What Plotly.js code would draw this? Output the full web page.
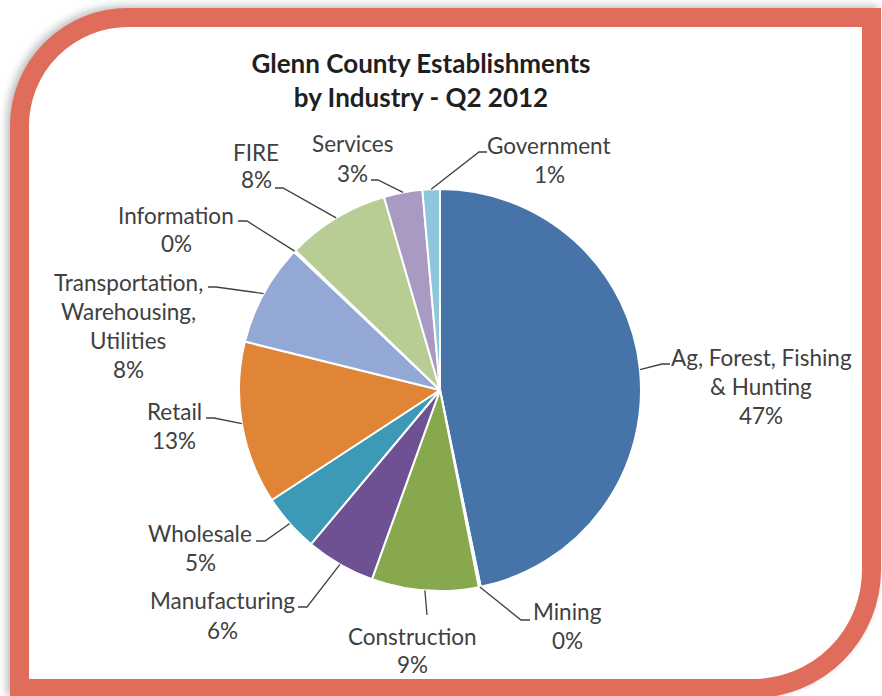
<!DOCTYPE html>
<html>
<head>
<meta charset="utf-8">
<script src="https://cdn.plot.ly/plotly-3.0.1.min.js"></script>
<style>
  html, body { margin: 0; padding: 0; background: #ffffff; overflow: hidden; }
  #frame {
    position: absolute; left: 10px; top: 8px; width: 871px; height: 690px;
    box-sizing: border-box; border: 19px solid #E06C5C; background: #ffffff;
    border-radius: 118px 0 128px 0;
    box-shadow: -3px -2px 9px rgba(0,0,0,0.28);
  }
  #chart { position: absolute; left: 0; top: 0; width: 882px; height: 696px; }
</style>
</head>
<body>
<div id="frame"></div>
<div id="chart"></div>
<script>
// ---- data ----
const categories = ["Ag, Forest, Fishing & Hunting", "Mining", "Construction", "Manufacturing",
  "Wholesale", "Retail", "Transportation, Warehousing, Utilities", "Information",
  "FIRE", "Services", "Government"];
const shareValues = [46.8, 0.15, 8.6, 5.6, 4.7, 13.1, 8.2, 0.15, 8.3, 3.1, 1.4];
const labelLines = [
  ["Ag, Forest, Fishing", "& Hunting"], ["Mining"], ["Construction"], ["Manufacturing"],
  ["Wholesale"], ["Retail"], ["Transportation,", "Warehousing,", "Utilities"], ["Information"],
  ["FIRE"], ["Services"], ["Government"]];
const chartTitle = "Glenn County Establishments<br>by Industry - Q2 2012";

// ---- styles / layout positions (pixels) ----
const sliceColors = ["#4674A8", "#C0504D", "#88A84D", "#6D5192", "#3C9AB6", "#E08436",
  "#93A8D4", "#E6A9A8", "#B7CD93", "#A99AC4", "#8EC6DB"];
const W = 882, H = 696, CX = 440, CY = 390, R = 201;
// label block: centre x, y of first line, line step; leader: attach point at text, elbow point
const labelPos = [
  {cx: 761, y: 357, step: 29, attach: [670, 364], elbow: [662, 364]},
  {cx: 567, y: 611, step: 29, attach: [530, 620], elbow: [521, 620]},
  {cx: 412, y: 636, step: 28, attach: [427, 615], elbow: [427, 615]},
  {cx: 222, y: 600, step: 30, attach: [298, 607], elbow: [307, 607]},
  {cx: 200, y: 533, step: 29, attach: [256, 541], elbow: [265, 541]},
  {cx: 174, y: 411, step: 29, attach: [206, 418], elbow: [214, 418]},
  {cx: 128, y: 282, step: 29, attach: [208, 287], elbow: [216, 287]},
  {cx: 176, y: 215, step: 28, attach: [238, 221], elbow: [247, 221]},
  {cx: 256, y: 152, step: 28, attach: [275, 188], elbow: [283, 188]},
  {cx: 352, y: 143, step: 30, attach: [371, 180], elbow: [378, 180]},
  {cx: 549, y: 145, step: 29, attach: [487, 152], elbow: [479, 152]}
];
const labelFont = {family: "Lato, 'Noto Sans', sans-serif", size: 22.5, color: "#404040"};

const px = x => x / W;
const py = y => 1 - y / H;

const total = shareValues.reduce((a, b) => a + b, 0);
const annotations = [];
const shapes = [];
let cum = 0;
shareValues.forEach((v, i) => {
  const theta = 2 * Math.PI * (cum + v / 2) / total;
  cum += v;
  const sx = CX + R * Math.sin(theta), sy = CY - R * Math.cos(theta);
  const lp = labelPos[i];
  const lines = labelLines[i].concat([Math.round(v / total * 100) + "%"]);
  lines.forEach((t, k) => {
    annotations.push({
      xref: "paper", yref: "paper", x: px(lp.cx), y: py(lp.y + k * lp.step),
      xanchor: "center", yanchor: "middle", showarrow: false, text: t, font: labelFont
    });
  });
  shapes.push({
    type: "path", xref: "paper", yref: "paper",
    path: `M ${px(sx)} ${py(sy)} L ${px(lp.elbow[0])} ${py(lp.elbow[1])} L ${px(lp.attach[0])} ${py(lp.attach[1])}`,
    line: {color: "#404040", width: 1.3}
  });
});

const trace = {
  type: "pie",
  labels: categories,
  values: shareValues,
  sort: false,
  direction: "clockwise",
  rotation: 0,
  textinfo: "none",
  hoverinfo: "label+percent",
  marker: {colors: sliceColors, line: {color: "#ffffff", width: 2}},
  domain: {x: [px(CX - R), px(CX + R)], y: [py(CY + R), py(CY - R)]},
  showlegend: false
};

const layout = {
  width: W, height: H,
  margin: {l: 0, r: 0, t: 0, b: 0},
  paper_bgcolor: "rgba(0,0,0,0)",
  plot_bgcolor: "rgba(0,0,0,0)",
  title: {
    text: "<b>" + chartTitle.replace("<br>", "</b><br><b>") + "</b>",
    x: px(421), xanchor: "center", xref: "paper",
    y: py(73), yanchor: "middle", yref: "paper",
    font: {family: "Lato, 'Noto Sans', sans-serif", size: 26, color: "#1f1f1f"}
  },
  annotations: annotations,
  shapes: shapes,
  showlegend: false
};

Plotly.newPlot("chart", [trace], layout, {displayModeBar: false, staticPlot: true});
</script>
</body>
</html>
